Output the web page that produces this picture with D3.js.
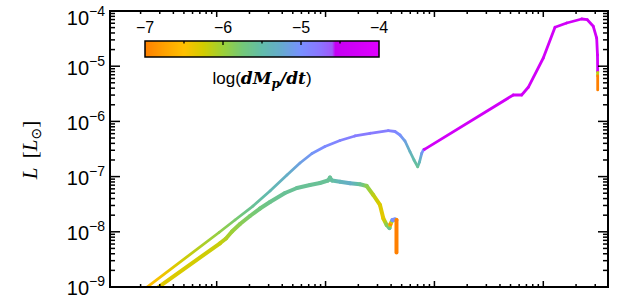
<!DOCTYPE html>
<html><head><meta charset="utf-8">
<script src="https://cdn.jsdelivr.net/npm/d3@7"></script>
<style>body{margin:0;background:#fff}svg{display:block}</style>
</head><body><svg id="c" width="641" height="297"></svg>
<script>
// ---- data ----
const upperX = [1.975, 10.50, 14.73, 21.55, 30.88, 44.23, 58.23, 75.07, 98.8, 135.7, 186.3, 255.9, 376.9, 434.2, 482.8, 536.6, 596.5, 649.1, 702.0, 729.3, 763.9, 790.2, 810.5, 5301, 6331, 7280, 10000, 12810, 16400, 22530, 25360, 28790, 30930, 31460, 31600, 31600, 31600, 31600, 31600];
const upperY = [7.95e-10, 9.71e-9, 1.636e-8, 2.93e-8, 5.48e-8, 1.069e-7, 1.763e-7, 2.62e-7, 3.51e-7, 4.51e-7, 5.44e-7, 6.09e-7, 6.78e-7, 6.56e-7, 5.67e-7, 4.41e-7, 2.82e-7, 2.0e-7, 1.511e-7, 1.839e-7, 2.64e-7, 3.03e-7, 3.12e-7, 3.01e-6, 3.01e-6, 4.15e-6, 1.408e-5, 5.07e-5, 6.06e-5, 7.16e-5, 6.96e-5, 5.28e-5, 3.24e-5, 1.595e-5, 8.02e-6, 7.69e-6, 6.93e-6, 6.65e-6, 3.71e-6];
const upperC = [-6.6, -5.95, -5.8, -5.6, -5.45, -5.3, -5.15, -5.05, -4.95, -4.88, -4.83, -4.8, -4.85, -4.9, -5.0, -5.15, -5.35, -5.5, -5.6, -5.4, -5.1, -4.95, -4.3, -4.3, -4.3, -4.3, -4.3, -4.3, -4.3, -4.3, -4.3, -4.3, -4.3, -4.3, -4.3, -6.15, -6.15, -7, -7];

const lowerX = [2.439, 10.72, 12.17, 13.82, 16.37, 20.22, 24.98, 30.88, 42.4, 54.67, 71.94, 88.9, 105.3, 109.8, 114.6, 135.7, 167.7, 207.1, 238.6, 274.4, 316.2, 339.1, 364.4, 386.6, 394.9, 411.9, 434.2, 448.2, 448.2];
const lowerY = [7.72e-10, 6.19e-9, 7.56e-9, 1.012e-8, 1.384e-8, 1.933e-8, 2.64e-8, 3.47e-8, 5.04e-8, 6.22e-8, 7.04e-8, 7.66e-8, 8.50e-8, 9.63e-8, 8.50e-8, 8.09e-8, 7.56e-8, 7.25e-8, 6.76e-8, 4.64e-8, 3.06e-8, 1.757e-8, 1.328e-8, 1.171e-8, 1.384e-8, 1.636e-8, 1.670e-8, 1.636e-8, 4.22e-9];
const lowerC = [-6.35, -6.2, -6.1, -6.0, -5.9, -5.8, -5.72, -5.65, -5.6, -5.6, -5.6, -5.6, -5.6, -5.6, -5.55, -5.4, -5.3, -5.6, -5.9, -6.15, -6.3, -6.35, -5.9, -5.6, -6.9, -5.0, -5.0, -7, -7];

const xMajorTicks = [10, 100, 1000, 10000];
const yTickExps = [-4, -5, -6, -7, -8, -9];
const cbarLabels = [-7, -6, -5, -4];
const cbarTicks = [-6.5, -6, -5.5, -5, -4.5];
const cmapStops = [
  [-7.0, "#ff8000"], [-6.75, "#ffa200"], [-6.5, "#ffc000"], [-6.25, "#d2cc00"],
  [-6.0, "#9cd038"], [-5.75, "#74c878"], [-5.5, "#62bcaa"], [-5.25, "#66aace"],
  [-5.0, "#7890ff"], [-4.75, "#8c74ff"], [-4.6, "#a058fa"], [-4.56, "#c400f2"],
  [-4.0, "#e000ff"]
];

// ---- setup ----
const svg = d3.select("#c");
const L = 110, R = 608, T = 11, B = 287;
const x = d3.scaleLog().domain([1.047, 39300]).range([L, R]);
const y = d3.scaleLog().domain([1e-9, 1e-4]).range([B, T]);
const cmap = d3.scaleLinear().domain(cmapStops.map(d => d[0])).range(cmapStops.map(d => d[1])).interpolate(d3.interpolateRgb).clamp(true);

const defs = svg.append("defs");
defs.append("clipPath").attr("id", "clip").append("rect")
  .attr("x", L).attr("y", T).attr("width", R - L).attr("height", B - T);

let gid = 0;
function drawCurve(xs, ys, cs, width) {
  const g = svg.append("g").attr("clip-path", "url(#clip)");
  for (let i = 0; i < xs.length - 1; i++) {
    const x0 = x(xs[i]), y0 = y(ys[i]), x1 = x(xs[i + 1]), y1 = y(ys[i + 1]);
    const id = "g" + (gid++);
    const grad = defs.append("linearGradient").attr("id", id)
      .attr("gradientUnits", "userSpaceOnUse")
      .attr("x1", x0).attr("y1", y0).attr("x2", x1 + (x1 === x0 && y1 === y0 ? 0.01 : 0)).attr("y2", y1);
    const n = 6;
    for (let k = 0; k <= n; k++) {
      const t = k / n;
      grad.append("stop").attr("offset", t).attr("stop-color", cmap(cs[i] + (cs[i + 1] - cs[i]) * t));
    }
    g.append("path").attr("d", `M${x0},${y0}L${x1},${y1}`)
      .attr("stroke", `url(#${id})`).attr("stroke-width", width)
      .attr("stroke-linecap", "round").attr("fill", "none");
  }
}
drawCurve(lowerX, lowerY, lowerC, 4);
drawCurve(upperX, upperY, upperC, 2.8);

// ---- axes ----
const ax = svg.append("g").attr("stroke", "#000").attr("stroke-width", 1.5);
const [xd0, xd1] = x.domain();
const xMinor = [];
for (let e = 0; e <= 4; e++) for (let k = 2; k <= 9; k++) { const v = k * Math.pow(10, e); if (v > xd0 && v < xd1) xMinor.push(v); }
xMajorTicks.forEach(v => {
  ax.append("line").attr("x1", x(v)).attr("x2", x(v)).attr("y1", B).attr("y2", B - 6);
  ax.append("line").attr("x1", x(v)).attr("x2", x(v)).attr("y1", T).attr("y2", T + 6);
});
xMinor.forEach(v => {
  ax.append("line").attr("x1", x(v)).attr("x2", x(v)).attr("y1", B).attr("y2", B - 3);
  ax.append("line").attr("x1", x(v)).attr("x2", x(v)).attr("y1", T).attr("y2", T + 3);
});
const yMinor = [];
for (let e = -9; e <= -5; e++) for (let k = 2; k <= 9; k++) yMinor.push(k * Math.pow(10, e));
yTickExps.forEach(e => {
  const v = Math.pow(10, e);
  ax.append("line").attr("x1", L).attr("x2", L + 10).attr("y1", y(v)).attr("y2", y(v));
  ax.append("line").attr("x1", R).attr("x2", R - 10).attr("y1", y(v)).attr("y2", y(v));
});
yMinor.forEach(v => {
  ax.append("line").attr("x1", L).attr("x2", L + 5).attr("y1", y(v)).attr("y2", y(v));
  ax.append("line").attr("x1", R).attr("x2", R - 5).attr("y1", y(v)).attr("y2", y(v));
});
svg.append("rect").attr("x", L).attr("y", T).attr("width", R - L).attr("height", B - T)
  .attr("fill", "none").attr("stroke", "#000").attr("stroke-width", 2);

// y tick labels
yTickExps.forEach((e, i) => {
  const off = i === 0 ? 14 : (i === yTickExps.length - 1 ? 7.5 : 8.5);
  const yy = y(Math.pow(10, e)) + off;
  const t = svg.append("text").attr("x", 105).attr("y", yy).attr("text-anchor", "end")
    .attr("font-family", "Liberation Sans, Arial, sans-serif").attr("font-size", 20).attr("fill", "#000");
  t.append("tspan").text("10");
  t.append("tspan").attr("font-size", 14).attr("dy", -9).text("\u2212" + Math.abs(e));
});

// y axis title
const yt = svg.append("text").attr("transform", "translate(37,150) rotate(-90)").attr("text-anchor", "middle")
  .attr("font-family", "Liberation Serif, Times New Roman, serif").attr("font-size", 21).attr("fill", "#000");
yt.append("tspan").attr("font-style", "italic").text("L");
yt.append("tspan").text("\u2009 [");
yt.append("tspan").attr("font-style", "italic").text("L");
yt.append("tspan").attr("font-size", 14).attr("dy", 4).attr("font-family", "DejaVu Sans").text("\u2299");
yt.append("tspan").attr("dy", -4).text("]");

// ---- colorbar ----
const cb = d3.scaleLinear().domain([-7, -4]).range([145, 379]);
const cbT = 41, cbB = 57;
const cbg = svg.append("g");
for (let px = 145; px < 379; px += 1) {
  cbg.append("rect").attr("x", px).attr("y", cbT).attr("width", 1.2).attr("height", cbB - cbT)
    .attr("fill", cmap(cb.invert(px + 0.5)));
}
cbg.append("rect").attr("x", 145).attr("y", cbT).attr("width", 234).attr("height", cbB - cbT)
  .attr("fill", "none").attr("stroke", "#000").attr("stroke-width", 1.5);
cbarTicks.forEach(v => {
  const len = Number.isInteger(v) ? 4 : 2.5;
  cbg.append("line").attr("x1", cb(v)).attr("x2", cb(v)).attr("y1", cbT).attr("y2", cbT + len)
    .attr("stroke", "#000").attr("stroke-width", 1.3);
});
cbarLabels.forEach(v => {
  svg.append("text").attr("x", cb(v)).attr("y", 33).attr("text-anchor", "middle")
    .attr("font-family", "Liberation Sans, Arial, sans-serif").attr("font-size", 16).attr("fill", "#000")
    .text("\u2212" + Math.abs(v));
});
const cl = svg.append("text").attr("x", 262).attr("y", 84).attr("text-anchor", "middle")
  .attr("font-family", "Liberation Sans, Arial, sans-serif").attr("font-size", 17).attr("fill", "#000");
cl.append("tspan").text("log(");
cl.append("tspan").attr("font-family", "DejaVu Serif, serif").attr("font-style", "italic").attr("font-weight", "bold").text("dM");
cl.append("tspan").attr("font-family", "DejaVu Serif, serif").attr("font-style", "italic").attr("font-weight", "bold").attr("font-size", 12).attr("dy", 4).text("p");
cl.append("tspan").attr("font-family", "DejaVu Serif, serif").attr("font-style", "italic").attr("font-weight", "bold").attr("dy", -4).text("/dt");
cl.append("tspan").text(")");
</script></body></html>
